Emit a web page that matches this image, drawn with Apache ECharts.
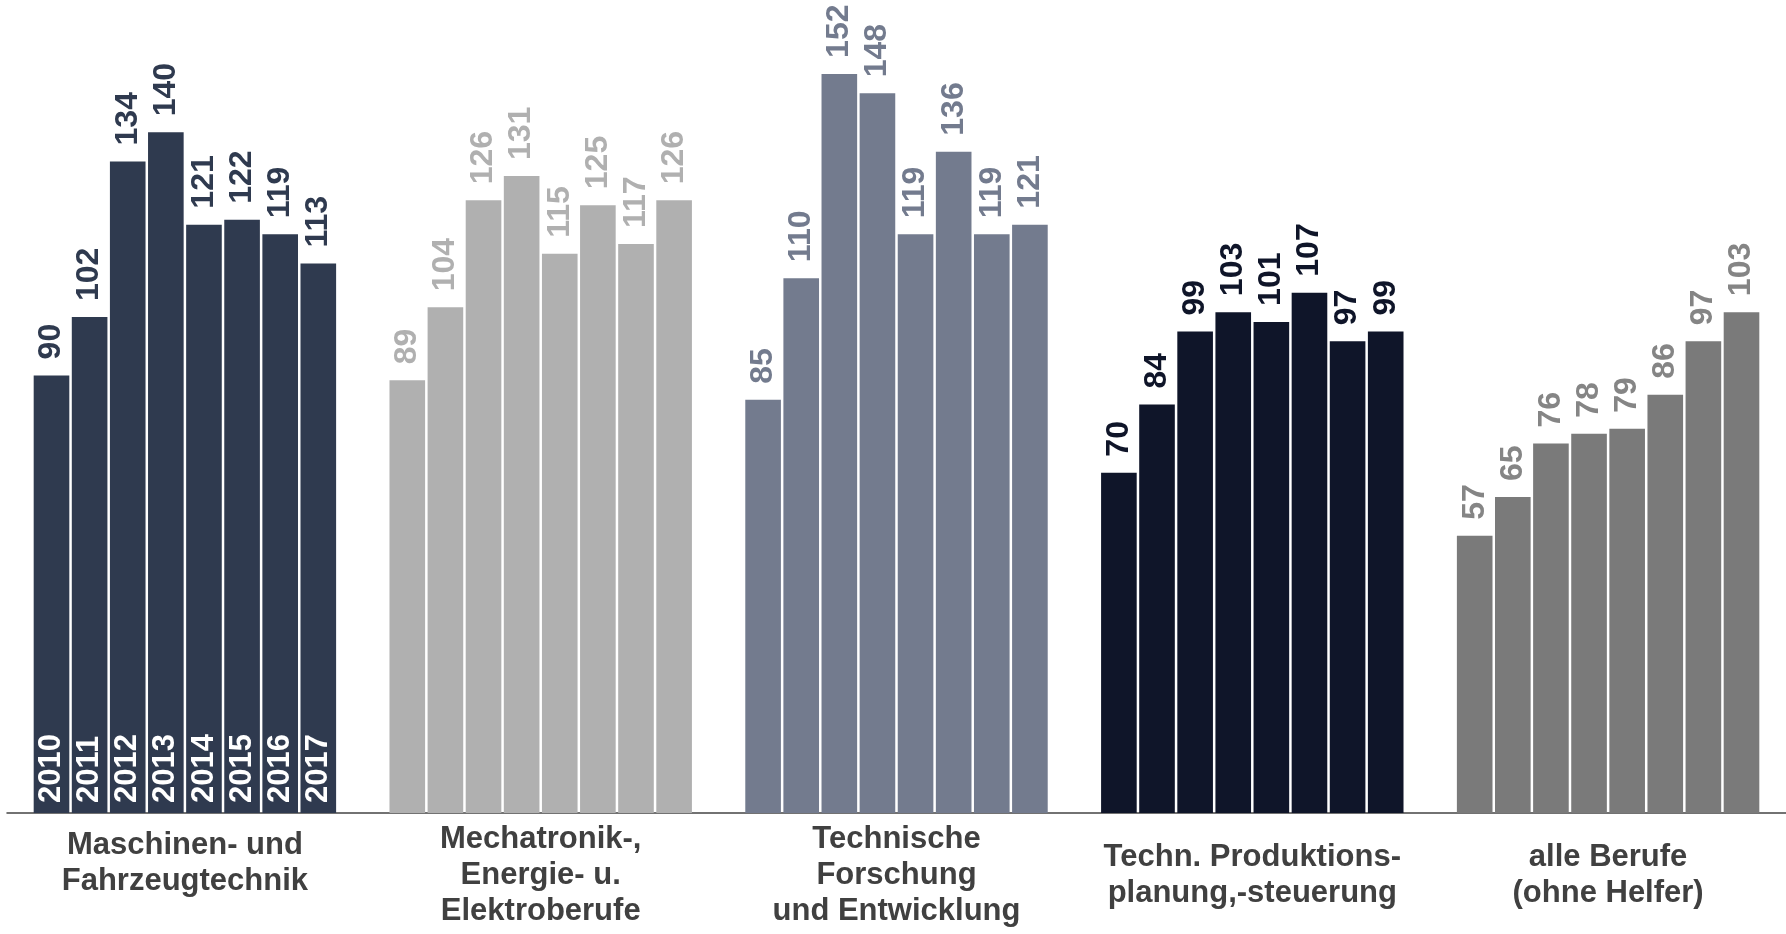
<!DOCTYPE html>
<html>
<head>
<meta charset="utf-8">
<script src="https://cdn.jsdelivr.net/npm/echarts@6/dist/echarts.min.js"></script>
<style>
html,body{margin:0;padding:0;background:#fff;}
#chart{width:1786px;height:934px;}
</style>
</head>
<body>
<div id="chart"></div>
<script>
const categories = [
  "Maschinen- und\nFahrzeugtechnik",
  "Mechatronik-,\nEnergie- u.\nElektroberufe",
  "Technische\nForschung\nund Entwicklung",
  "Techn. Produktions-\nplanung,-steuerung",
  "alle Berufe\n(ohne Helfer)"
];
const years = ["2010","2011","2012","2013","2014","2015","2016","2017"];
const maschinen   = [90,102,134,140,121,122,119,113];
const mechatronik = [89,104,126,131,115,125,117,126];
const forschung   = [85,110,152,148,119,136,119,121];
const produktion  = [70,84,99,103,101,107,97,99];
const alleBerufe  = [57,65,76,78,79,86,97,103];

const groups = [maschinen, mechatronik, forschung, produktion, alleBerufe];
const barColors   = ['#2f3a4f','#b0b0b0','#737b8e','#0f1529','#7a7a7a'];
const labelColors = ['#2f3a4f','#b0b0b0','#737b8e','#0f1529','#858585'];
const labelPadTop = [6, 0, 0, 18, 18];
const FONT = "'Liberation Sans', Arial, sans-serif";

const series = [];
years.forEach((y, yi) => {
  series.push({
    name: y,
    type: 'bar',
    barGap: '7%',
    barCategoryGap: '15%',
    data: groups.map((g, gi) => ({
      value: g[yi],
      itemStyle: {color: barColors[gi]},
      label: {color: labelColors[gi]}
    })),
    label: {
      show: true,
      position: 'top',
      rotate: 90,
      align: 'left',
      verticalAlign: 'middle',
      distance: 16,
      fontFamily: FONT,
      fontWeight: 'bold',
      fontSize: 32
    },
    silent: true
  });
});
// year labels inside the first group's bars
years.forEach((y, yi) => {
  series.push({
    name: y + '_yr',
    type: 'bar',
    xAxisIndex: 1,
    yAxisIndex: 1,
    barGap: '7%',
    barCategoryGap: '15%',
    data: groups.map((g, gi) => gi === 0 ? g[yi] : '-'),
    itemStyle: {color: 'rgba(0,0,0,0)'},
    label: {
      show: true,
      position: 'insideBottom',
      rotate: 90,
      align: 'left',
      verticalAlign: 'middle',
      distance: 10,
      color: '#ffffff',
      fontFamily: FONT,
      fontWeight: 'bold',
      fontSize: 31,
      formatter: () => y
    },
    silent: true
  });
});

const chart = echarts.init(document.getElementById('chart'));
chart.setOption({
  animation: false,
  backgroundColor: '#ffffff',
  grid: {left: 7, right: 0, top: 35, bottom: 121, containLabel: false, outerBoundsMode: 'none'},
  xAxis: [{
    type: 'category',
    data: categories.map((c, i) => ({
      value: c,
      textStyle: {padding: [labelPadTop[i], 0, 0, 0]}
    })),
    axisLine: {show: true, lineStyle: {color: '#444444', width: 1.5}},
    axisTick: {show: false},
    axisLabel: {
      interval: 0,
      margin: 8,
      verticalAlign: 'top',
      color: '#404040',
      fontFamily: FONT,
      fontWeight: 'bold',
      fontSize: 31,
      lineHeight: 36
    },
    splitLine: {show: false}
  }, {
    type: 'category',
    data: categories,
    show: false
  }],
  yAxis: [{
    type: 'value', min: 0, max: 160, show: false, splitLine: {show: false}
  }, {
    type: 'value', min: 0, max: 160, show: false, splitLine: {show: false}
  }],
  series: series
});
</script>
</body>
</html>
